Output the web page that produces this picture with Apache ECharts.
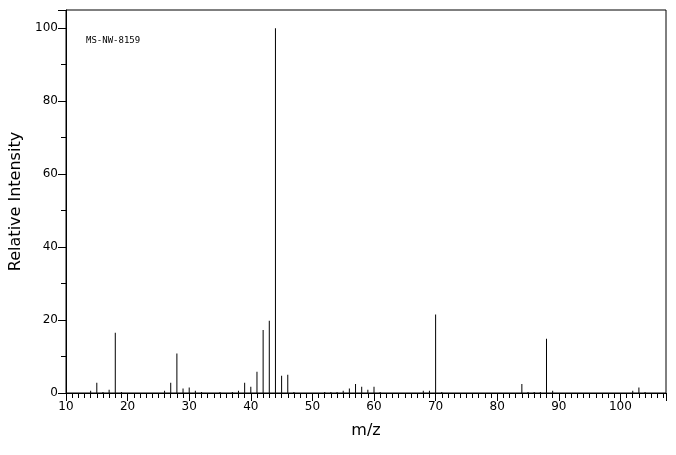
<!DOCTYPE html><html><head><meta charset="utf-8"><script src="https://cdn.jsdelivr.net/npm/echarts@6/dist/echarts.min.js"></script></head><body style="margin:0"><div id="c" style="width:676px;height:455px"></div><script>
const mz=[14,15,16,17,18,19,26,27,28,29,30,31,32,35,37,38,39,40,41,42,43,44,45,46,47,52,53,54,55,56,57,58,59,60,61,68,69,70,71,84,85,86,87,88,89,102,103,104];
const intensity=[0.6,2.8,0.3,0.9,16.5,0.3,0.6,2.8,10.8,1.2,1.5,0.6,0.3,0.3,0.3,0.6,2.8,1.7,5.8,17.3,19.8,100,4.7,5.0,0.3,0.3,0.3,0.3,0.6,1.2,2.5,1.7,0.9,1.7,0.3,0.6,0.6,21.5,0.3,2.5,0.3,0.3,0.3,14.9,0.6,0.6,1.5,0.3];
const label='MS-NW-8159';
const ch=echarts.init(document.getElementById('c'));
const f='DejaVu Sans';
ch.setOption({animation:false,
grid:{left:62,right:10,top:10,bottom:62,show:true,borderColor:'#000',borderWidth:1},
graphic:[{type:'text',left:86,top:36,style:{text:label,font:'9px "DejaVu Sans Mono"',fill:'#000'}}],
xAxis:{type:'value',min:10,max:107.4,interval:10,name:'m/z',nameLocation:'middle',nameGap:30,nameTextStyle:{fontFamily:f,fontSize:16,color:'#000'},
axisLine:{lineStyle:{color:'#000'}},axisTick:{length:8,lineStyle:{color:'#000'}},minorTick:{show:true,splitNumber:10,length:5,lineStyle:{color:'#000'}},
axisLabel:{fontFamily:f,fontSize:12,color:'#000',showMaxLabel:false},splitLine:{show:false}},
yAxis:{type:'value',min:0,max:105,interval:20,name:'Relative Intensity',nameLocation:'middle',nameGap:42,nameTextStyle:{fontFamily:f,fontSize:16,color:'#000'},
axisLine:{lineStyle:{color:'#000'}},axisTick:{length:8,lineStyle:{color:'#000'}},minorTick:{show:true,splitNumber:2,length:5,lineStyle:{color:'#000'}},
axisLabel:{fontFamily:f,fontSize:12,color:'#000',showMaxLabel:false},splitLine:{show:false}},
series:[{type:'bar',barWidth:1,itemStyle:{color:'#000'},data:mz.map((m,i)=>[m,intensity[i]])}]});
</script></body></html>
